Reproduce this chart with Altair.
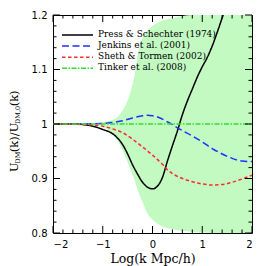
import altair as alt
import pandas as pd

# ---------------- data ----------------
models = ["Press & Schechter (1974)", "Jenkins et al. (2001)",
          "Sheth & Tormen (2002)", "Tinker et al. (2008)"]
colors = ["#000000", "#1f2fff", "#ff2a2a", "#33dd33"]
dashes = [[1, 0], [7, 3.5], [3.5, 2.5], [5, 1.5, 1.5, 1.5]]

ps_x = [-2.0, -1.6, -1.4, -1.2, -1.0, -0.8, -0.7, -0.6, -0.5, -0.4, -0.3, -0.2, -0.1, 0.0,
        0.1, 0.2, 0.3, 0.4, 0.5, 0.6, 0.7, 0.8, 0.9, 1.0, 1.1, 1.2, 1.3, 1.42, 1.6, 2.0]
ps_y = [1.0, 1.0, 0.999, 0.996, 0.990, 0.982, 0.974, 0.962, 0.945, 0.925, 0.908, 0.893, 0.884, 0.881,
        0.886, 0.902, 0.932, 0.960, 0.987, 1.017, 1.042, 1.064, 1.086, 1.105, 1.122, 1.143, 1.168, 1.2, 1.245, 1.35]

jk_x = [-2.0, -1.5, -1.0, -0.8, -0.6, -0.4, -0.2, -0.1, 0.0, 0.1, 0.2, 0.3, 0.4, 0.5, 0.6,
        0.8, 1.0, 1.2, 1.4, 1.6, 1.8, 2.0]
jk_y = [1.0, 1.0, 1.001, 1.003, 1.006, 1.011, 1.015, 1.016, 1.015, 1.013, 1.009, 1.004, 0.999, 0.993, 0.988,
        0.978, 0.967, 0.955, 0.945, 0.937, 0.932, 0.931]

st_x = [-2.0, -1.4, -1.2, -1.0, -0.8, -0.6, -0.4, -0.2, 0.0, 0.2, 0.3, 0.4, 0.6, 0.8, 1.0,
        1.2, 1.4, 1.6, 1.8, 2.0]
st_y = [1.0, 0.999, 0.998, 0.996, 0.991, 0.984, 0.972, 0.958, 0.943, 0.926, 0.916, 0.909, 0.900, 0.894, 0.890,
        0.888, 0.889, 0.893, 0.899, 0.906]

tk_x = [-2.0, 2.0]
tk_y = [1.0, 1.0]

band_x = [-2.0, -1.2, -1.0, -0.9, -0.8, -0.7, -0.6, -0.5, -0.45, -0.4, -0.35, -0.3, -0.25, -0.2,
          -0.1, 0.0, 0.1, 0.25, 0.4, 0.6, 0.8, 1.0, 1.5, 2.0]
band_lo = [0.9995, 0.999, 0.995, 0.990, 0.982, 0.969, 0.952, 0.930, 0.918, 0.907, 0.894, 0.880, 0.868, 0.857,
           0.836, 0.825, 0.817, 0.810, 0.807, 0.804, 0.802, 0.801, 0.800, 0.800]
band_hi = [1.0005, 1.001, 1.003, 1.005, 1.008, 1.013, 1.025, 1.043, 1.056, 1.073, 1.093, 1.125, 1.145, 1.158,
           1.172, 1.180, 1.186, 1.191, 1.194, 1.198, 1.2, 1.2, 1.2, 1.2]

x_major = [-2, -1, 0, 1, 2]
x_minor = [-1.8, -1.6, -1.4, -1.2, -0.8, -0.6, -0.4, -0.2, 0.2, 0.4, 0.6, 0.8, 1.2, 1.4, 1.6, 1.8]
y_major = [0.8, 0.9, 1.0, 1.1, 1.2]
y_minor = [0.82, 0.84, 0.86, 0.88, 0.92, 0.94, 0.96, 0.98, 1.02, 1.04, 1.06, 1.08,
           1.12, 1.14, 1.16, 1.18]

x_title = "Log(k Mpc/h)"
# y-title pieces: (text, is_subscript)
y_title_pieces = [("U", False), ("DM", True), ("(k)/U", False), ("DM,0", True), ("(k)", False)]

# ---------------- layout constants ----------------
W, H = 199, 218
BIG, SMALL = 11.5, 6.5
SERIF = "DejaVu Serif"
SANS = "DejaVu Sans"

# ---------------- tables ----------------
rows = []
for m, xs_, ys_ in zip(models, [ps_x, jk_x, st_x, tk_x], [ps_y, jk_y, st_y, tk_y]):
    for xv, yv in zip(xs_, ys_):
        rows.append({"model": m, "x": xv, "y": yv})
lines_df = pd.DataFrame(rows)
band_df = pd.DataFrame({"x": band_x, "lo": band_lo, "hi": band_hi})

xs = alt.Scale(domain=[-2, 2], nice=False, zero=False)
ys = alt.Scale(domain=[0.8, 1.2], nice=False, zero=False)

band = alt.Chart(band_df).mark_area(color="#c2fac2", interpolate="monotone", clip=True).encode(
    x=alt.X("x:Q", scale=xs,
            axis=alt.Axis(values=x_major, format="d", title=x_title, titleFont=SERIF,
                          titleFontSize=12.5, titleFontWeight="normal", titleColor="black",
                          titlePadding=3)),
    y=alt.Y("lo:Q", scale=ys, axis=alt.Axis(values=y_major, format="~g", title=None)),
    y2="hi:Q",
)

lines = alt.Chart(lines_df).mark_line(strokeWidth=1.5, interpolate="monotone", clip=True).encode(
    x=alt.X("x:Q", scale=xs),
    y=alt.Y("y:Q", scale=ys),
    color=alt.Color("model:N", scale=alt.Scale(domain=models, range=colors), legend=None),
    strokeDash=alt.StrokeDash("model:N", scale=alt.Scale(domain=models, range=dashes), legend=None),
    order=alt.Order("x:Q"),
)

# inside ticks on all four sides
def xticks(vals, length):
    d = pd.DataFrame({"t": vals})
    bot = alt.Chart(d).mark_rule(color="black", strokeWidth=1).encode(
        x=alt.X("t:Q", scale=xs), y=alt.value(H), y2=alt.value(H - length))
    top = alt.Chart(d).mark_rule(color="black", strokeWidth=1).encode(
        x=alt.X("t:Q", scale=xs), y=alt.value(0), y2=alt.value(length))
    return [bot, top]

def yticks(vals, length):
    d = pd.DataFrame({"t": vals})
    left = alt.Chart(d).mark_rule(color="black", strokeWidth=1).encode(
        y=alt.Y("t:Q", scale=ys), x=alt.value(0), x2=alt.value(length))
    right = alt.Chart(d).mark_rule(color="black", strokeWidth=1).encode(
        y=alt.Y("t:Q", scale=ys), x=alt.value(W), x2=alt.value(W - length))
    return [left, right]

ticks = xticks(x_major, 7) + xticks(x_minor, 3.5) + yticks(y_major, 7) + yticks(y_minor, 3.5)

# legend (inside, top-left)
legend_layers = []
for i, (m, c, d) in enumerate(zip(models, colors, dashes)):
    ld = pd.DataFrame({"label": [m]})
    legend_layers.append(
        alt.Chart(ld).mark_rule(color=c, strokeWidth=1.5, strokeDash=d).encode(
            x=alt.value(9), x2=alt.value(40), y=alt.value(20 + 11.1 * i)))
    legend_layers.append(
        alt.Chart(ld).mark_text(align="left", baseline="middle", font=SERIF, fontSize=9,
                                color="black").encode(
            text="label:N", x=alt.value(45), y=alt.value(18.5 + 11.1 * i)))

# y title built from pieces (with subscripts), rotated
em = {"U": 0.74, "D": 0.77, "M": 0.97, ",": 0.32, "0": 0.64, "(": 0.39, ")": 0.39,
      "k": 0.60, "/": 0.34}
title_layers = []
pos = 157.0
for txt, sub in y_title_pieces:
    fs = SMALL if sub else BIG
    td = pd.DataFrame({"s": [txt]})
    title_layers.append(
        alt.Chart(td).mark_text(align="left", baseline="alphabetic", angle=270, font=SERIF,
                                fontSize=fs, color="black").encode(
            text="s:N", x=alt.value(-33.5 if sub else -35.5), y=alt.value(pos)))
    pos -= sum(em.get(ch, 0.6) for ch in txt) * fs

chart = alt.layer(band, lines, *ticks, *legend_layers, *title_layers).properties(
    width=W, height=H,
    autosize=alt.AutoSizeParams(type="none"),
    padding={"left": 45, "top": 7, "right": 6, "bottom": 36},
).configure_view(
    stroke="black", strokeWidth=1
).configure_axis(
    domain=False, ticks=False, grid=False,
    labelFont=SANS, labelFontSize=10, labelColor="black", labelPadding=6,
)

chart.save("out.html", embed_options={"renderer": "svg", "actions": False})
